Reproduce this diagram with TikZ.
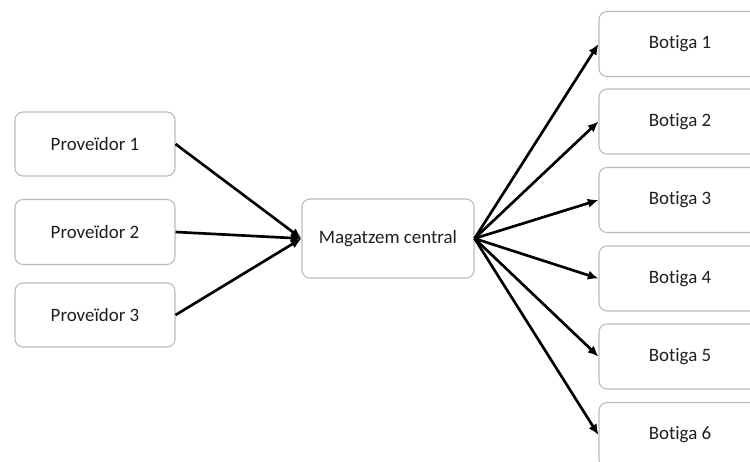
\documentclass[tikz,border=0pt]{standalone}
\usepackage{fontspec}
\setmainfont[Ligatures=NoCommon]{Carlito}
\usetikzlibrary{arrows.meta}
\begin{document}
\begin{tikzpicture}[x=0.75pt,y=-0.75pt,
  lbl/.style={font=\fontsize{14.2}{16}\selectfont,text=black!88},
  box/.style={draw=black!27,line width=0.8pt,rounded corners=6pt,fill=white,
    inner sep=0pt,lbl},
  flow/.style={line width=2pt,-{Latex[length=8pt,width=7pt]}}]
  \useasboundingbox (0,0) rectangle (750,461);
  \clip (0,0) rectangle (750,461);
  % suppliers
  \node[box,minimum width=160*0.75pt,minimum height=64*0.75pt] (p1) at (95,144) {Proveïdor 1};
  \node[box,minimum width=160*0.75pt,minimum height=65*0.75pt] (p2) at (95,232) {Proveïdor 2};
  \node[box,minimum width=160*0.75pt,minimum height=64*0.75pt] (p3) at (95,315) {Proveïdor 3};
  % central warehouse
  \node[box,minimum width=172*0.75pt,minimum height=79*0.75pt] (m) at (388,238.5) {Magatzem central};
  % shops (boxes run past the right edge)
  \foreach \i/\y in {1/44,2/121.5,3/200,4/278.5,5/356.5,6/435}{
    \node[box,minimum width=170*0.75pt,minimum height=65*0.75pt] (b\i) at (684,\y) {};
    \node[lbl] (t\i) at (680,\y) {Botiga \i};
  }
  \foreach \i in {1,2,3}{\draw[flow] (p\i.east) -- (m.west);}
  \foreach \i in {1,...,6}{\draw[flow] (m.east) -- (b\i.west);}
\end{tikzpicture}
\end{document}
